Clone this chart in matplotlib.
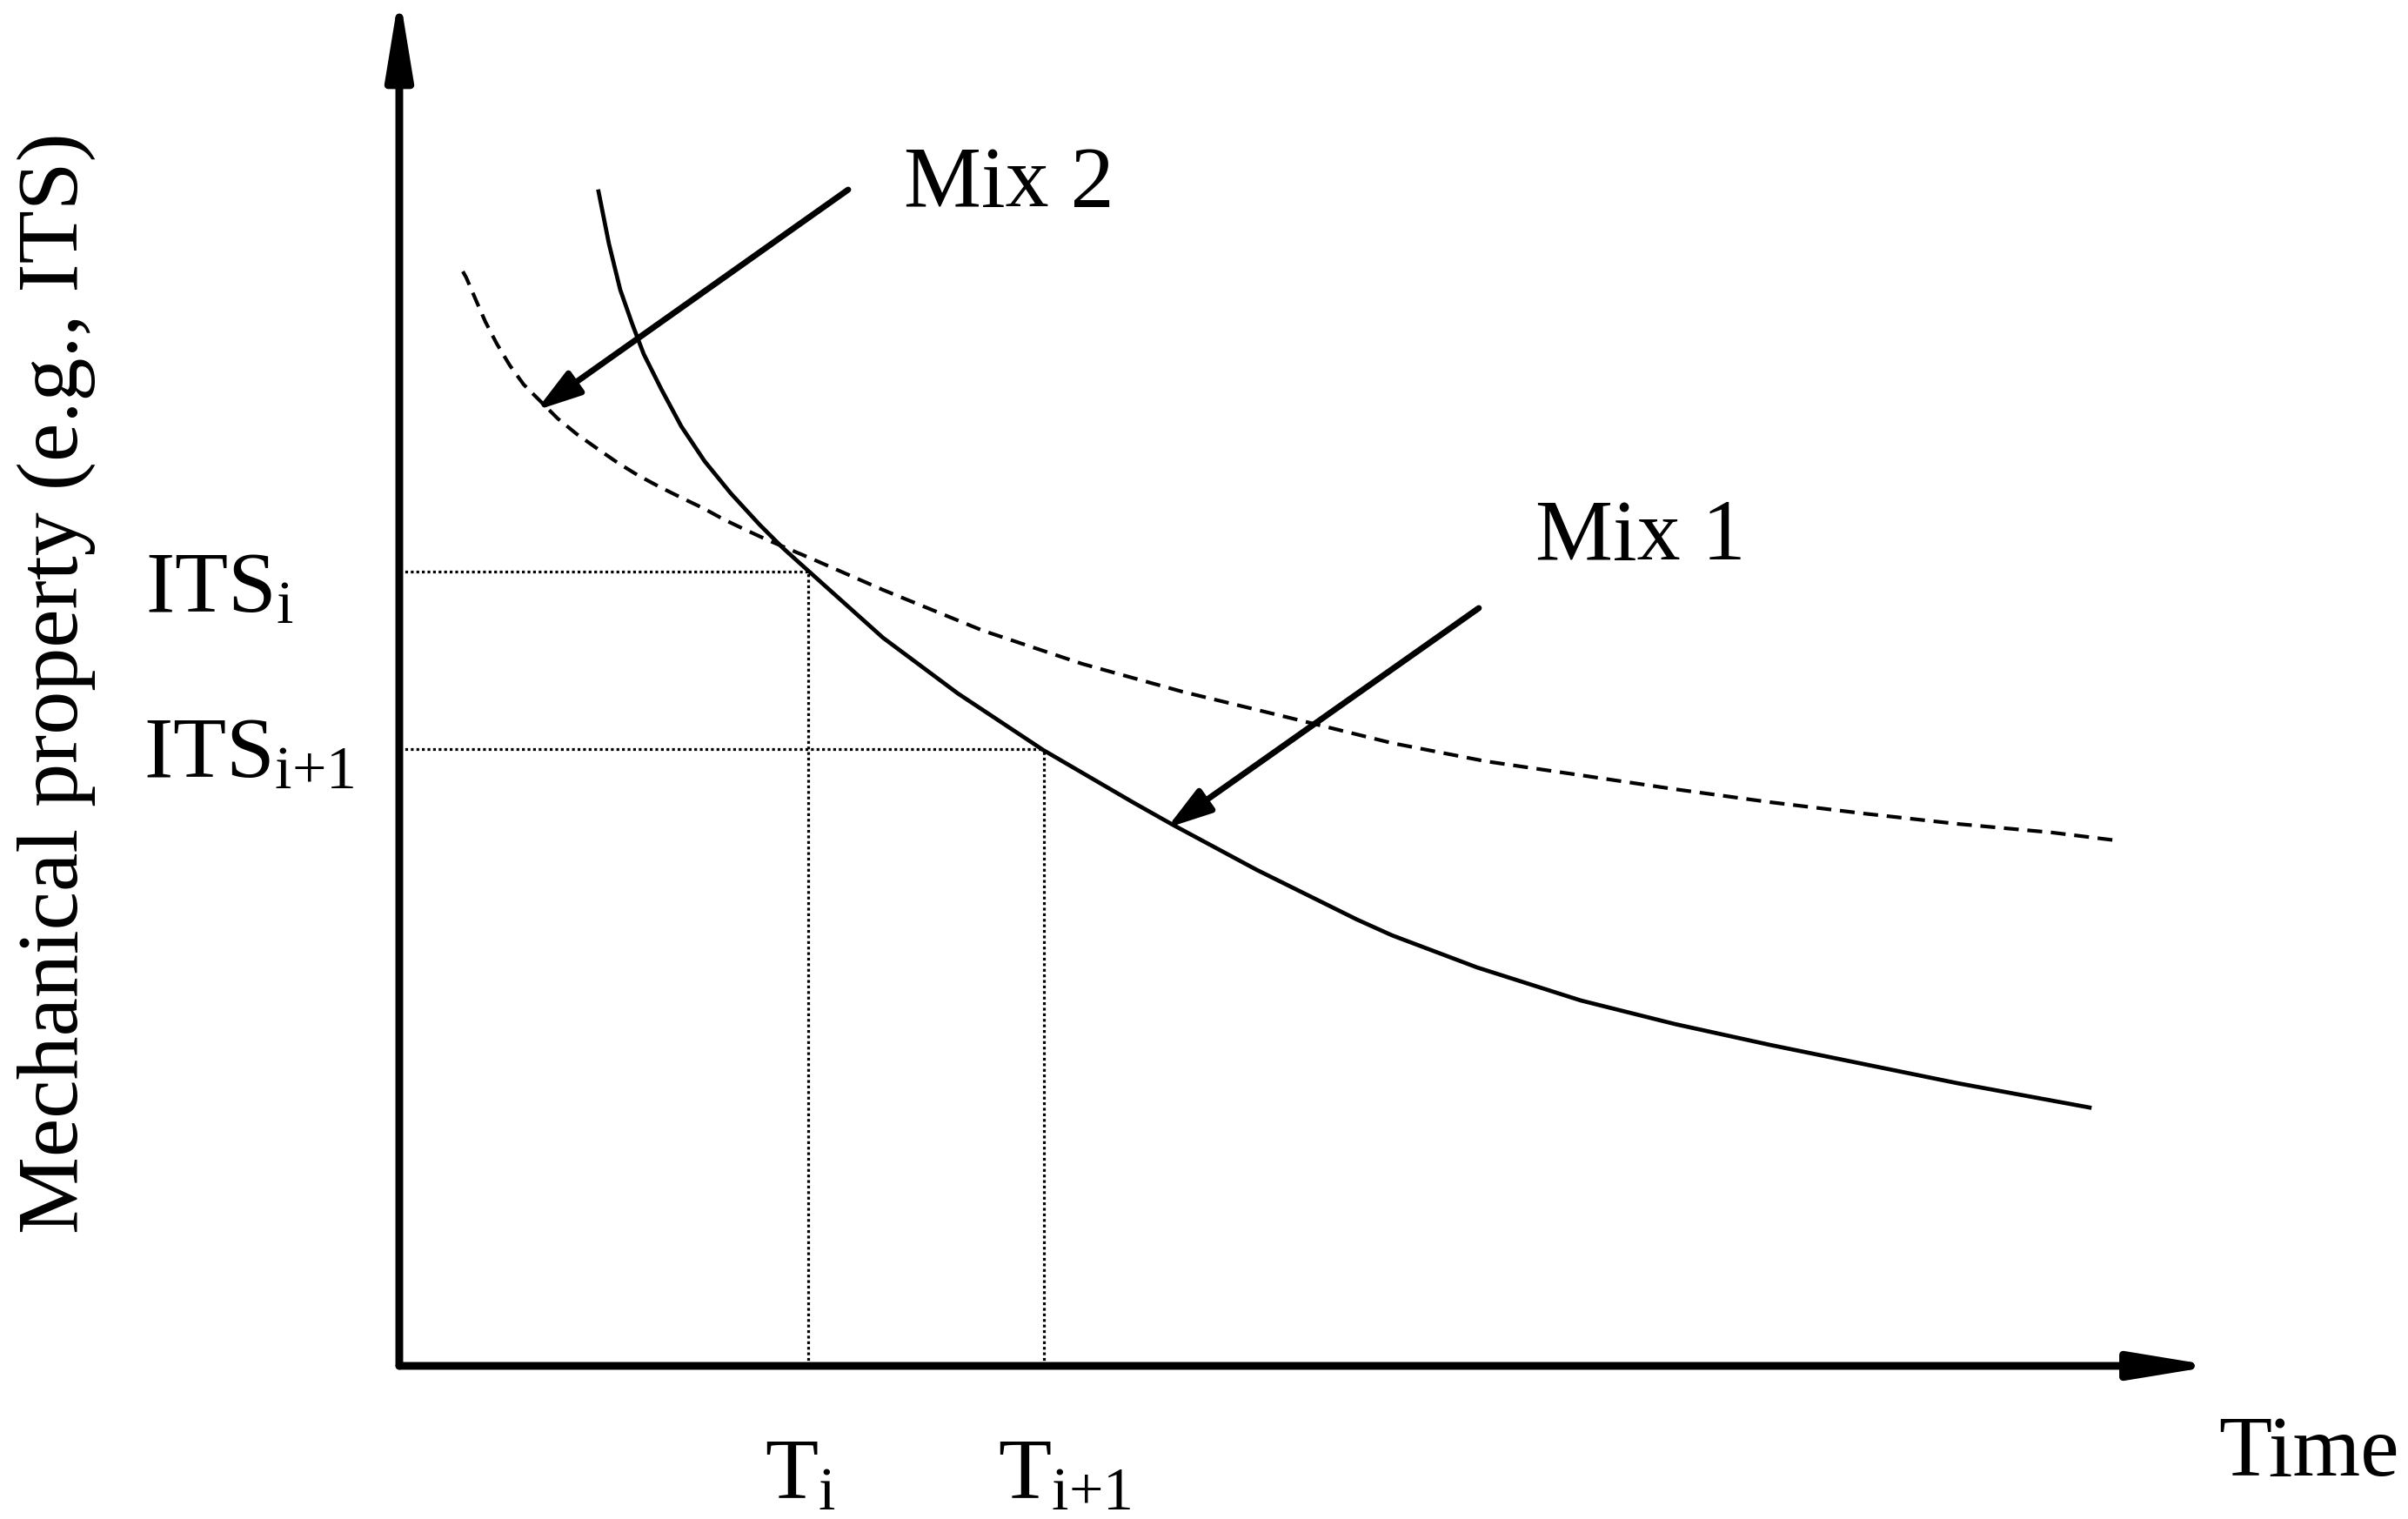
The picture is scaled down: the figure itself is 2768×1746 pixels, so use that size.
import matplotlib
matplotlib.use("Agg")
import matplotlib.pyplot as plt

plt.rcParams['font.family'] = ['Liberation Serif', 'DejaVu Serif']
plt.rcParams['mathtext.fontset'] = 'custom'
plt.rcParams['mathtext.rm'] = 'Liberation Serif'
plt.rcParams['mathtext.it'] = 'Liberation Serif:italic'

# Mix 1 (solid), arbitrary units 0..100
mix1_t = [11.10, 11.68, 12.31, 12.99, 13.62, 14.59, 15.71, 17.01, 18.47, 20.07,
          21.38, 22.35, 26.95, 31.12, 35.87, 40.86, 43.09, 47.79, 53.37, 55.31,
          60.06, 65.83, 71.06, 76.35, 81.58, 86.82, 94.18]
mix1_its = [86.87, 83.01, 79.60, 77.03, 74.84, 72.27, 69.50, 66.92, 64.54, 62.23,
            60.49, 59.33, 53.86, 49.74, 45.56, 41.70, 40.03, 36.68, 33.01, 31.85,
            29.47, 27.03, 25.29, 23.75, 22.33, 20.91, 19.11]

# Mix 2 (dashed)
mix2_t = [3.54, 3.73, 4.27, 4.80, 5.43, 6.16, 6.93, 7.76, 8.82, 9.89, 11.05, 12.17,
          13.28, 14.44, 15.71, 16.92, 18.08, 19.29, 20.55, 23.07, 26.95, 32.53, 38.05,
          43.63, 49.20, 55.31, 60.54, 65.83, 71.06, 76.35, 81.58, 86.82, 92.10, 95.64]
mix2_its = [80.95, 80.50, 78.83, 77.22, 75.61, 74.00, 72.59, 71.49, 70.08, 68.92, 67.83, 66.80,
            65.89, 65.06, 64.22, 63.45, 62.61, 61.84, 61.07, 59.65, 57.40, 54.38, 51.93,
            49.87, 48.07, 46.07, 44.72, 43.69, 42.66, 41.70, 40.86, 40.09, 39.45, 38.87]

# reference levels
t_marks = [22.78, 35.92]
its_marks = [58.75, 45.60]
t_labels = [r'$\mathrm{T_{i}}$', r'$\mathrm{T_{i{+}1}}$']
its_labels = [r'$\mathrm{ITS_{i}}$', r'$\mathrm{ITS_{i{+}1}}$']

fig = plt.figure(figsize=(13.84, 8.73), dpi=200)
ax = fig.add_axes([0.16582, 0.10080, 0.74530, 0.89003])
ax.set_xlim(0, 100)
ax.set_ylim(0, 100)
ax.axis('off')

fs = 36

# axes with arrow heads (end points pushed out a bit: mpl pulls the head back by the line width)
axis_arrow = dict(arrowstyle='-|>,head_length=28,head_width=4.6', lw=3.2, color='k',
                  mutation_scale=1, shrinkA=0, shrinkB=0)
ax.annotate('', xy=(101.15, 0), xytext=(0, 0), arrowprops=axis_arrow, annotation_clip=False)
ax.annotate('', xy=(0, 101.5), xytext=(0, 0), arrowprops=axis_arrow, annotation_clip=False)

# curves
ax.plot(mix1_t, mix1_its, color='k', lw=1.7, solid_joinstyle='round')
ax.plot(mix2_t, mix2_its, color='k', lw=1.5, ls=(0, (4.1, 2.4)))

# dotted guides
for t, v in zip(t_marks, its_marks):
    ax.plot([0, t], [v, v], color='k', lw=1.15, ls=(0, (1, 1)), clip_on=False)
    ax.plot([t, t], [0, v], color='k', lw=1.15, ls=(0, (1, 1)), clip_on=False)

# labels for guides
ax.text(20.36, -9.78, t_labels[0], fontsize=fs, ha='left', va='baseline')
ax.text(33.35, -9.78, t_labels[1], fontsize=fs, ha='left', va='baseline')
ax.text(-14.15, 55.79, its_labels[0], fontsize=fs, ha='left', va='baseline')
ax.text(-14.25, 43.56, its_labels[1], fontsize=fs, ha='left', va='baseline')

# mix labels + pointers
mix_arrow = dict(arrowstyle='-|>,head_length=15.5,head_width=4.8', lw=2.5, color='k',
                 mutation_scale=1, shrinkA=0, shrinkB=0)
ax.annotate('', xy=(7.63, 70.68), xytext=(25.01, 87.00), arrowprops=mix_arrow)
ax.text(28.11, 85.78, 'Mix 2', fontsize=fs, ha='left', va='baseline')
ax.annotate('', xy=(42.77, 39.79), xytext=(60.15, 56.05), arrowprops=mix_arrow)
ax.text(63.31, 59.65, 'Mix 1', fontsize=fs, ha='left', va='baseline')

# axis titles
ax.text(101.36, -8.11, 'Time', fontsize=fs, ha='left', va='baseline')
ax.text(-19.10, 50.51, 'Mechanical property (e.g., ITS)', fontsize=fs, rotation=90,
        ha='center', va='center')

fig.savefig('out.png', dpi=200)
